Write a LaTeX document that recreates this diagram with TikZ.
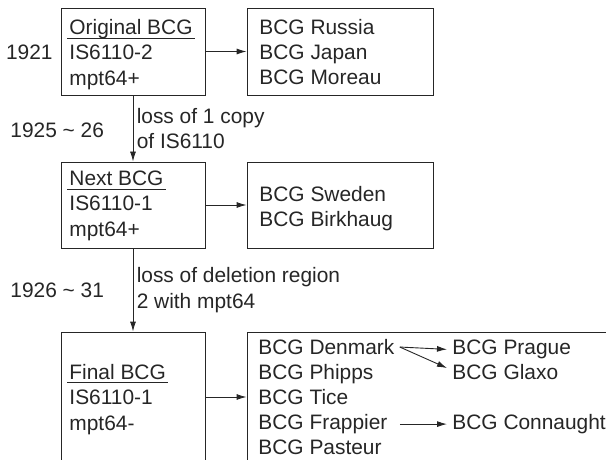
\documentclass[tikz,border=0pt]{standalone}
\usepackage{fontspec}
\setmainfont{Liberation Sans}
\usetikzlibrary{arrows.meta}
\newcommand{\bcgul}[1]{\setbox0=\hbox{#1}\rlap{\kern-2pt\rule[-4pt]{\dimexpr\wd0+4pt\relax}{0.9pt}}\box0}
\begin{document}
\begin{tikzpicture}[x=1pt, y=-1pt, >={Latex[length=10pt,width=6pt]},
  font=\fontsize{20.9}{25.5}\selectfont, line width=0.9pt, color=black!85]
\tikzstyle{box}=[draw, rectangle, inner sep=0pt]
\tikzstyle{tx}=[draw=none, fill=none, inner sep=0pt, anchor=base west, align=left]
\tikzstyle{strain}=[draw=none, inner xsep=5pt, inner ysep=0pt, anchor=base west]
\clip (0,0) rectangle (606,460);

\node[box, minimum width=144, minimum height=87] (B1) at (133,51.5) {};
\node[box, minimum width=186, minimum height=87] (R1) at (340,51.5) {};
\node[box, minimum width=144, minimum height=86] (B2) at (133,205) {};
\node[box, minimum width=186, minimum height=86] (R2) at (340,205) {};
\node[box, minimum width=144, minimum height=130] (B3) at (133,397) {};
\node[box, minimum width=373, minimum height=130] (R3) at (433.5,397) {};

% base of a multi-line node is its last line
\node[tx] (t1) at (69,85.5) {\bcgul{Original BCG}\\IS6110-2\\mpt64+};
\node[tx] (r1) at (259,85) {BCG Russia\\BCG Japan\\BCG Moreau};
\node[tx] (t2) at (69,236.5) {\bcgul{Next BCG}\\IS6110-1\\mpt64+};
\node[tx] (r2) at (259,226.5) {BCG Sweden\\BCG Birkhaug};
\node[tx] (t3) at (69,430) {\bcgul{Final BCG}\\IS6110-1\\mpt64-};

\node[strain] (d1) at (253,354.5) {BCG Denmark};
\node[strain] (d2) at (253,379.5) {BCG Phipps};
\node[strain] (d3) at (253,404.5) {BCG Tice};
\node[strain] (d4) at (253,429.5) {BCG Frappier};
\node[strain] (d5) at (253,454.5) {BCG Pasteur};
\node[strain] (p1) at (447,354.5) {BCG Prague};
\node[strain] (p2) at (447,379.5) {BCG Glaxo};
\node[strain] (p3) at (447,429.5) {BCG Connaught};

% years
\node[tx, anchor=base east] (y1) at (53,59.5) {1921};
\node[tx] (y2) at (10,137.5) {1925 \textasciitilde{} 26};
\node[tx] (y3) at (10,297.5) {1926 \textasciitilde{} 31};

\draw[->] (B1) edge (R1);
\draw[->] (B2) edge (R2);
\draw[->] (B3) edge (R3);
\draw[->] (B1) edge node[right, align=left]{loss of 1 copy\\of IS6110} (B2);
\draw[->] (B2) edge node[right, align=left]{loss of deletion region\\2 with mpt64} (B3);

\draw[->] (d1.east) -- (p1.west);
\draw[->] (d1.east) -- ([yshift=4pt]p2.west);
\draw[->] (d1.east |- d4.east) -- (p3.west);
\end{tikzpicture}
\end{document}
